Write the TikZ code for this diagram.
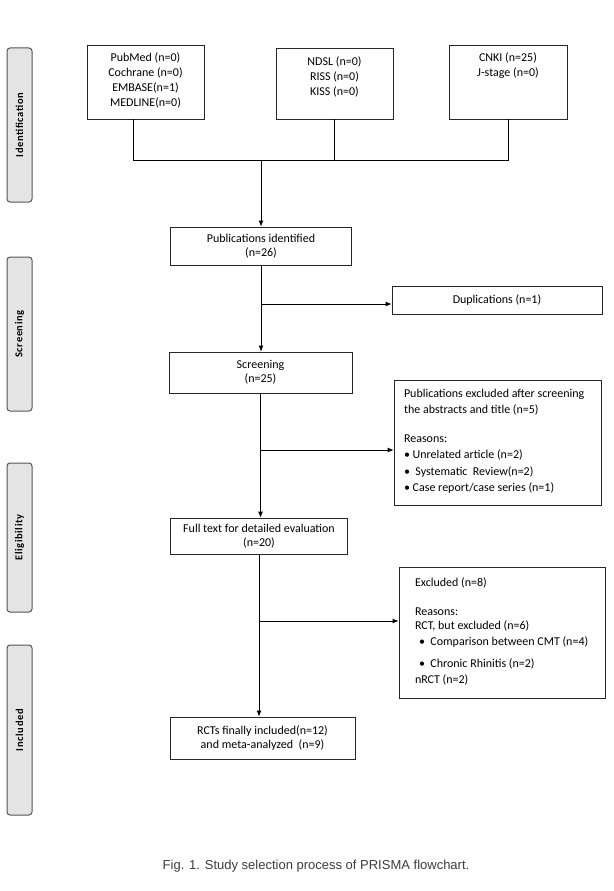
\documentclass[tikz,border=0pt]{standalone}
\usepackage{fontspec}
\setmainfont{Carlito}
\newfontfamily\captionfont{Liberation Sans}
\newfontfamily\barfont[LetterSpace=6]{Carlito}
\usetikzlibrary{arrows.meta, calc}
\definecolor{barfill}{RGB}{228, 228, 228}
\definecolor{barline}{RGB}{85, 85, 85}
\definecolor{captiongray}{RGB}{60, 60, 60}
\tikzset{
    phasebar/.style={draw=barline, fill=barfill, line width=1pt, rounded corners=3pt, rotate=90,
                     minimum height=25pt, inner sep=0pt, font=\barfont\fontsize{10.5}{11}\selectfont\bfseries},
    srcbox/.style={draw=black!85, line width=0.8pt, inner sep=0pt, font=\fontsize{12}{15}\selectfont},
    stepbox/.style={draw=black!85, line width=0.8pt, inner sep=0pt, align=center, font=\fontsize{12}{14}\selectfont},
    notebox/.style={draw=black!85, line width=0.8pt, inner sep=0pt, font=\fontsize{12}{16.5}\selectfont},
    wire/.style={line width=0.8pt},
    flow/.style={line width=0.8pt, -{Latex[length=6pt, width=5pt]}}
}

\begin{document}
\begin{tikzpicture}[x=1pt, y=-1pt]
            \useasboundingbox (0,0) rectangle (613,891);
            % phase bars
            \node[phasebar, minimum width=154pt] (idbar)   at (19.5,125.0) {Identification};
            \node[phasebar, minimum width=154pt] (scrbar)  at (19.5,334.0) {Screening};
            \node[phasebar, minimum width=149pt] (eligbar) at (19.5,537.5) {Eligibility};
            \node[phasebar, minimum width=170pt] (inclbar) at (19.5,730.0) {Included};
            % sources
            \node[srcbox] (pubmed) at (145.5,82.0)
                 {\parbox[c][74pt][t]{117pt}{\centering\vspace*{8pt}PubMed (n=0)\\Cochrane (n=0)\\EMBASE(n=1)\\MEDLINE(n=0)}};
            \node[srcbox] (ndsl)   at (334.5,83.5)
                 {\parbox[c][71pt][t]{117pt}{\centering\vspace*{9pt}NDSL (n=0)\\RISS (n=0)\\KISS (n=0)}};
            \node[srcbox] (cnki)   at (508.0,82.0)
                 {\parbox[c][74pt][t]{118pt}{\centering\vspace*{8pt}CNKI (n=25)\\J-stage (n=0)}};
            % main steps
            \node[stepbox, minimum width=181pt, minimum height=38pt] (pubident) at (261.0,246.0) {Publications identified\\(n=26)};
            \node[stepbox, minimum width=210pt, minimum height=28pt] (dup)      at (497.0,300.0) {Duplications (n=1)};
            \node[stepbox, minimum width=183pt, minimum height=41pt] (screen)   at (260.5,372.5) {Screening\\(n=25)};
            \node[stepbox, minimum width=177pt, minimum height=36pt] (fulltext) at (259.0,536.0) {Full text for detailed evaluation\\(n=20)};
            \node[stepbox, minimum width=185pt, minimum height=42pt] (rcts)     at (262.5,738.0) {RCTs finally included(n=12)\\and meta-analyzed\ \ (n=9)};
            % exclusions
            \node[notebox] (exclabs) at (497.5,442.5)
                 {\parbox[c][125pt][t]{207pt}{\raggedright\leftskip=10pt\vspace*{9pt}%
                  Publications excluded after screening\\
                  the abstracts and title (n=5)\\[12pt]
                  Reasons:\\
                  \textbullet\ Unrelated article (n=2)\\
                  \textbullet\ \ Systematic\ \ Review(n=2)\\
                  \textbullet\ Case report/case series (n=1)}};
            \node[notebox] (exclft) at (502.0,632.5)
                 {\parbox[c][131pt][t]{206pt}{\raggedright\leftskip=16pt\vspace*{11pt}%
                  Excluded (n=8)\\[12pt]
                  Reasons:\\[-2.5pt]
                  RCT, but excluded (n=6)\\
                  \hspace*{4pt}\textbullet\ \ Comparison between CMT (n=4)\\[5pt]
                  \hspace*{4pt}\textbullet\ \ Chronic Rhinitis (n=2)\\
                  nRCT (n=2)}};
            % joins
            \coordinate (bus)     at (261,160);
            \coordinate (dupfork) at (261,304);
            \coordinate (absfork) at (260,450);
            \coordinate (ftfork)  at (259,621);
            \draw[wire] ($(pubmed.south)+(-12.5,0)$) |- (cnki.south |- bus) -- (cnki.south);
            \draw[wire] (ndsl.south) -- (ndsl.south |- bus);
            \draw[flow] (bus) -- (bus |- pubident.north);
            \draw[flow] (pubident.south) -- (pubident.south |- screen.north);
            \draw[flow] (screen.south) -- (screen.south |- fulltext.north);
            \draw[flow] (fulltext.south) -- (fulltext.south |- rcts.north);
            \draw[flow] (dupfork) -- (dupfork -| dup.west);
            \draw[flow] (absfork) -- (absfork -| exclabs.west);
            \draw[flow] (ftfork)  -- (ftfork -| exclft.west);
            % caption
            \node[font=\captionfont\fontsize{13}{15}\selectfont, text=captiongray] (caption) at (316,866)
                 {Fig. 1. Study selection process of PRISMA flowchart.};
        \end{tikzpicture}
\end{document}
